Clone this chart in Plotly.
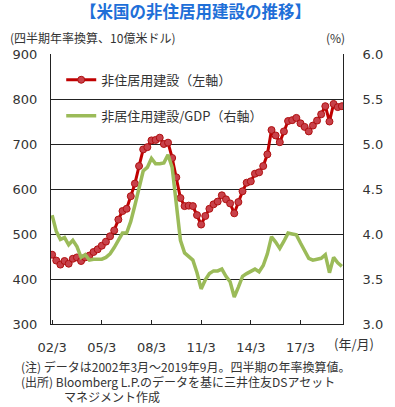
import plotly.graph_objects as go

# Quarterly data, 2002/3 ... 2019/9 (71 quarters)
quarter_index = list(range(71))
tick_positions = [0, 12, 24, 36, 48, 60]
tick_labels = ["02/3", "05/3", "08/3", "11/3", "14/3", "17/3"]

nonres_construction = [
    454, 441, 432, 440, 434, 445, 448, 440, 448, 452,
    460, 466, 474, 483, 495, 508, 532, 551, 556, 584,
    612, 651, 688, 693, 708, 709, 714, 700, 703, 669,
    626, 580, 562, 563, 562, 542, 521, 540, 556, 566,
    572, 586, 577, 568, 546, 571, 595, 614, 617, 634,
    637, 651, 677, 731, 719, 704, 728, 751, 753, 758,
    746, 738, 728, 741, 752, 766, 784, 750, 789, 782,
    784,
]

nonres_gdp_ratio = [
    4.21, 4.03, 3.94, 3.96, 3.88, 3.93, 3.86, 3.74, 3.77, 3.71,
    3.72, 3.72, 3.72, 3.74, 3.78, 3.85, 3.94, 4.01, 4.01, 4.14,
    4.32, 4.53, 4.70, 4.74, 4.84, 4.78, 4.78, 4.79, 4.88, 4.74,
    4.30, 3.93, 3.79, 3.75, 3.71, 3.57, 3.39, 3.49, 3.56, 3.59,
    3.59, 3.61, 3.53, 3.47, 3.30, 3.41, 3.53, 3.56, 3.59, 3.61,
    3.58, 3.65, 3.78, 3.97, 3.91, 3.84, 3.92, 4.01, 4.00, 3.99,
    3.90, 3.82, 3.73, 3.71, 3.72, 3.73, 3.77, 3.57, 3.74, 3.68,
    3.64,
]

FONT = "Noto Sans CJK JP"
TXT = "#333333"

fig = go.Figure()
fig.add_trace(go.Scatter(
    x=quarter_index, y=nonres_construction, name="非住居用建設（左軸）",
    mode="lines+markers", legendgroup="a",
    line=dict(color="#C00000", width=3),
    marker=dict(size=7, color="#C8414A", line=dict(color="#B01010", width=1)),
    yaxis="y",
))
fig.add_trace(go.Scatter(
    x=quarter_index, y=nonres_gdp_ratio, name="非居住用建設/GDP（右軸）",
    mode="lines", legendgroup="b",
    line=dict(color="#9BBB59", width=3.5),
    yaxis="y2",
))

fig.update_layout(
    width=395, height=407,
    margin=dict(l=51, r=48, t=54, b=83),
    paper_bgcolor="white", plot_bgcolor="white",
    font=dict(family=FONT, size=12, color=TXT),
    showlegend=True,
    legend=dict(x=0.035, y=0.96, xanchor="left", yanchor="top",
                bgcolor="rgba(0,0,0,0)", font=dict(size=13, color=TXT),
                tracegroupgap=16, itemwidth=30),
    xaxis=dict(
        range=[-0.27, 70.27], tickvals=tick_positions, ticktext=tick_labels,
        showgrid=False, showline=True, linecolor="#222", linewidth=1,
        ticks="inside", ticklen=4, tickcolor="#222",
        tickfont=dict(family="DejaVu Sans", size=13, color=TXT), zeroline=False,
        ticklabelstandoff=11,
    ),
    yaxis=dict(
        range=[300, 900], dtick=100, showgrid=True, gridcolor="#222", gridwidth=1,
        showline=True, linecolor="#222", linewidth=1, ticks="",
        tickfont=dict(family="DejaVu Sans", size=13, color=TXT), zeroline=False,
        ticklabelstandoff=10,
    ),
    yaxis2=dict(
        range=[3.0, 6.0], dtick=0.5, tickformat=".1f", overlaying="y", side="right",
        showgrid=False, showline=True, linecolor="#222", linewidth=1, ticks="",
        tickfont=dict(family="DejaVu Sans", size=13, color=TXT), zeroline=False,
        ticklabelstandoff=16,
    ),
)

def py(ypx):
    return (324.3 - ypx) / 269.8

def px(xpx):
    return (xpx - 51.3) / 295.4

annos = [
    dict(text="<b>【米国の非住居用建設の推移】</b>", x=px(197), y=py(12),
         font=dict(size=16.5, color="#1E6FD8"), xanchor="center"),
    dict(text="(四半期年率換算、10億米ドル)", x=px(8), y=py(38), xanchor="left",
         font=dict(size=12, color=TXT)),
    dict(text="(%)", x=px(351), y=py(38), xanchor="right", font=dict(size=12, color=TXT)),
    dict(text="(年/月)", x=px(336), y=py(344), xanchor="left", font=dict(size=13, color=TXT)),
    dict(text="(注) データは2002年3月～2019年9月。四半期の年率換算値。", x=px(19), y=py(367),
         xanchor="left", font=dict(size=12, color=TXT)),
    dict(text="(出所) Bloomberg L.P.のデータを基に三井住友DSアセット", x=px(19), y=py(382),
         xanchor="left", font=dict(size=12, color=TXT)),
    dict(text="マネジメント作成", x=px(62), y=py(397),
         xanchor="left", font=dict(size=12, color=TXT)),
]
for a in annos:
    a.update(xref="paper", yref="paper", yanchor="middle", showarrow=False)
    fig.add_annotation(**a)

fig.write_html(
    "out.html",
    config={"displayModeBar": False},
    post_script="document.body.style.margin='0';",
)
